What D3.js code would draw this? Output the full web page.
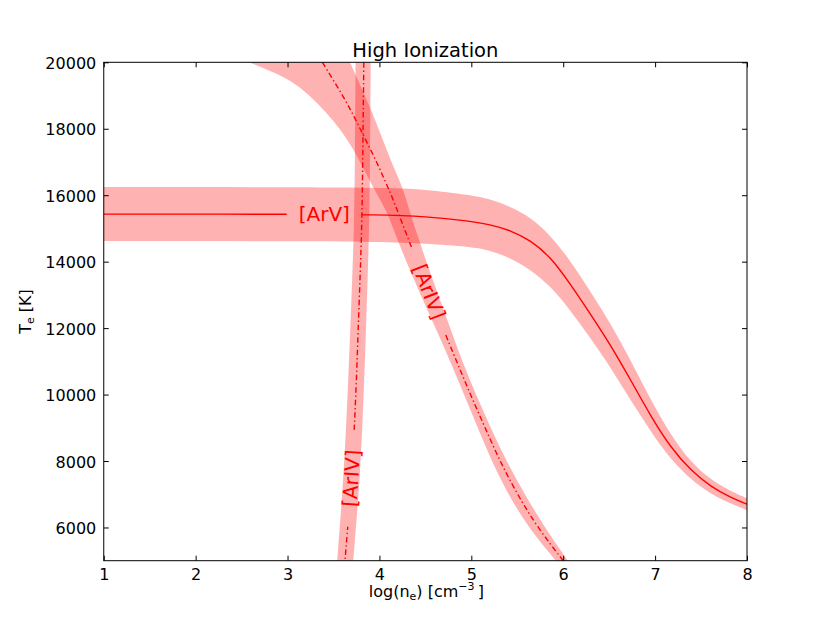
<!DOCTYPE html>
<html>
<head>
<meta charset="utf-8">
<script src="https://cdn.jsdelivr.net/npm/d3@7"></script>
<style>
  body { margin: 0; background: #fff; }
  svg { display: block; font-family: "DejaVu Sans", sans-serif; }
</style>
</head>
<body>
<div id="chart"></div>
<script>
(function () {

// axis ticks
const xTicks = [1, 2, 3, 4, 5, 6, 7, 8];
const yTicks = [6000, 8000, 10000, 12000, 14000, 16000, 18000, 20000];

// [ArV] : T as a function of log(ne)
const arvN  = [1, 2, 3, 4, 4.5, 4.99, 5.2, 5.42, 5.64, 5.86, 6.07, 6.29, 6.51, 6.73, 6.95, 7.17, 7.39, 7.61, 7.83, 8.0];
const arvT  = [15430, 15430, 15428, 15415, 15365, 15220, 15120, 14950, 14650, 14150, 13360, 12450, 11520, 10460, 9360, 8400, 7710, 7215, 6890, 6700];
const arvHi = [16245, 16245, 16242, 16228, 16180, 16000, 15890, 15660, 15350, 14800, 14060, 13130, 12160, 11060, 9850, 8780, 7960, 7425, 7080, 6880];
const arvLo = [14620, 14620, 14617, 14600, 14545, 14450, 14340, 14120, 13770, 13270, 12560, 11730, 10840, 9840, 8900, 8040, 7440, 7000, 6710, 6520];

// [ArIV] steep curve : log(ne) as a function of T
const ar4aT  = [20000, 17500, 15000, 12500, 10000, 7500, 5000];
const ar4aN  = [3.83, 3.82, 3.81, 3.775, 3.745, 3.70, 3.625];
const ar4aLo = [3.74, 3.735, 3.725, 3.69, 3.655, 3.61, 3.54];
const ar4aHi = [3.905, 3.90, 3.89, 3.86, 3.83, 3.79, 3.715];

// [ArIV] diagonal curve : log(ne) as a function of T
const ar4bT  = [20000, 19500, 19000, 18500, 18000, 17500, 17000, 16500, 16000, 15500, 15000, 14000, 13000, 12000, 11000, 10000, 9000, 8000, 7000, 6000, 5000];
const ar4bN  = [3.38, 3.49, 3.60, 3.70, 3.79, 3.88, 3.97, 4.05, 4.13, 4.20, 4.27, 4.41, 4.55, 4.69, 4.84, 4.99, 5.15, 5.31, 5.50, 5.72, 6.00];
const ar4bLo = [2.58, 3.03, 3.24, 3.42, 3.57, 3.69, 3.79, 3.88, 3.98, 4.08, 4.15, 4.29, 4.45, 4.61, 4.77, 4.92, 5.07, 5.22, 5.40, 5.62, 5.92];
const ar4bHi = [3.68, 3.76, 3.84, 3.92, 3.99, 4.06, 4.13, 4.21, 4.28, 4.33, 4.39, 4.51, 4.64, 4.77, 4.90, 5.05, 5.21, 5.38, 5.58, 5.80, 6.05];

const margin = {top: 62.3, right: 83, bottom: 62.3, left: 103.75};
const width = 830 - margin.left - margin.right,
      height = 623 - margin.top - margin.bottom;

const svg = d3.select("#chart").append("svg")
    .attr("width", width + margin.left + margin.right)
    .attr("height", height + margin.top + margin.bottom);

const defs = svg.append("defs");
const g = svg.append("g")
    .attr("transform", "translate(" + margin.left + "," + margin.top + ")");

const x = d3.scaleLinear().domain([1, 8]).range([0, width]);
const y = d3.scaleLinear().domain([5000, 20000]).range([height, 0]);

defs.append("clipPath").attr("id", "plot-clip")
  .append("rect").attr("width", width).attr("height", height);

// rows
const arv = arvN.map((n, i) => ({n: n, t: arvT[i], hi: arvHi[i], lo: arvLo[i]}));
const ar4a = ar4aT.map((t, i) => ({t: t, n: ar4aN[i], hi: ar4aHi[i], lo: ar4aLo[i]}));
const ar4b = ar4bT.map((t, i) => ({t: t, n: ar4bN[i], hi: ar4bHi[i], lo: ar4bLo[i]}));

// labels sit on the curve, the line is broken underneath them
function onCurveT(T, ts, ns) {
  const f = d3.scaleLinear().domain(ts).range(ns);
  return f(T);
}
function angle(n1, t1, n2, t2) {
  return Math.atan2(y(t2) - y(t1), x(n2) - x(n1)) * 180 / Math.PI;
}

const labels = [
  {id: "m-arv", text: "[ArV]", cx: x(3.40), cy: y(15430), rot: 0, pad: 12},
  {id: "m-ar4a", text: "[ArIV]", cx: x(onCurveT(7480, ar4aT, ar4aN)), cy: y(7480),
     rot: angle(3.625, 5000, 3.745, 10000), pad: 20},
  {id: "m-ar4b", text: "[ArIV]", cx: x(onCurveT(13090, ar4bT, ar4bN)), cy: y(13090),
     rot: angle(4.41, 14000, 4.69, 12000), pad: 17}
];

const plot = g.append("g").attr("clip-path", "url(#plot-clip)");

// bands
const bandX = d3.area()
    .x(d => x(d.n)).y0(d => y(d.lo)).y1(d => y(d.hi))
    .curve(d3.curveBasis);
const bandY = d3.area()
    .y(d => y(d.t)).x0(d => x(d.lo)).x1(d => x(d.hi))
    .curve(d3.curveBasis);

plot.append("path").attr("d", bandX(arv))
  .attr("fill", "red").attr("fill-opacity", 0.3);
plot.append("path").attr("d", bandY(ar4a))
  .attr("fill", "red").attr("fill-opacity", 0.3);
plot.append("path").attr("d", bandY(ar4b))
  .attr("fill", "red").attr("fill-opacity", 0.3);

// label texts (drawn first to measure them for the masks)
const labelG = g.append("g");
labels.forEach(l => {
  l.node = labelG.append("text")
    .attr("transform", "translate(" + l.cx + "," + l.cy + ") rotate(" + l.rot + ")")
    .attr("text-anchor", "middle")
    .attr("dy", "0.33em")
    .attr("fill", "red")
    .attr("font-size", 20)
    .text(l.text);
  const w = l.node.node().getComputedTextLength() + 2 * l.pad;
  const m = defs.append("mask").attr("id", l.id)
    .attr("maskUnits", "userSpaceOnUse")
    .attr("x", -50).attr("y", -50)
    .attr("width", width + 100).attr("height", height + 100);
  m.append("rect").attr("x", -50).attr("y", -50)
    .attr("width", width + 100).attr("height", height + 100).attr("fill", "white");
  m.append("rect")
    .attr("x", -w / 2).attr("y", -12).attr("width", w).attr("height", 24)
    .attr("transform", "translate(" + l.cx + "," + l.cy + ") rotate(" + l.rot + ")")
    .attr("fill", "black");
});

// center lines
const line = d3.line().x(d => x(d.n)).y(d => y(d.t)).curve(d3.curveBasis);

plot.append("path").attr("d", line(arv))
  .attr("fill", "none").attr("stroke", "red").attr("stroke-width", 1.4)
  .attr("mask", "url(#m-arv)");
plot.append("path").attr("d", line(ar4a))
  .attr("fill", "none").attr("stroke", "red").attr("stroke-width", 1.4)
  .attr("stroke-dasharray", "5.5,2.8,1.4,2.8")
  .attr("mask", "url(#m-ar4a)");
plot.append("path").attr("d", line(ar4b))
  .attr("fill", "none").attr("stroke", "red").attr("stroke-width", 1.4)
  .attr("stroke-dasharray", "5.5,2.8,1.4,2.8")
  .attr("mask", "url(#m-ar4b)");

labelG.raise();

// axes, ticks pointing inward on all four sides
function styleAxis(sel) {
  sel.select(".domain").remove();
  sel.selectAll(".tick line").attr("stroke", "#000").attr("stroke-width", 1);
  sel.selectAll(".tick text").attr("fill", "#000")
    .attr("font-size", 16).attr("font-family", "DejaVu Sans, sans-serif");
}

g.append("g").attr("transform", "translate(0," + height + ")")
  .call(d3.axisBottom(x).tickValues(xTicks).tickFormat(d3.format("d"))
    .tickSizeInner(-5).tickSizeOuter(0).tickPadding(8))
  .call(styleAxis);
g.append("g")
  .call(d3.axisTop(x).tickValues(xTicks).tickSizeInner(-5).tickSizeOuter(0).tickFormat(""))
  .call(styleAxis);
g.append("g")
  .call(d3.axisLeft(y).tickValues(yTicks).tickFormat(d3.format("d"))
    .tickSizeInner(-5).tickSizeOuter(0).tickPadding(7.5))
  .call(styleAxis)
  .selectAll(".tick text").attr("dy", "0.38em");
g.append("g").attr("transform", "translate(" + width + ",0)")
  .call(d3.axisRight(y).tickValues(yTicks).tickSizeInner(-5).tickSizeOuter(0).tickFormat(""))
  .call(styleAxis);

// frame
g.append("rect").attr("width", width).attr("height", height)
  .attr("fill", "none").attr("stroke", "#000").attr("stroke-width", 1);

// title and axis labels
g.append("text")
  .attr("x", width / 2).attr("y", -5.3)
  .attr("text-anchor", "middle").attr("font-size", 19.5)
  .text("High Ionization");

const xl = g.append("text")
  .attr("x", width / 2 + 1).attr("y", 535)
  .attr("text-anchor", "middle").attr("font-size", 16);
xl.append("tspan").text("log(n");
xl.append("tspan").attr("font-size", 11).attr("dy", 3).text("e");
xl.append("tspan").attr("dy", -3).text(") [cm");
xl.append("tspan").attr("font-size", 11).attr("dy", -7).text("\u22123");
xl.append("tspan").attr("dy", 7).text("\u2009]");

const yl = g.append("text")
  .attr("transform", "translate(" + (31 - margin.left) + "," + (height / 2) + ") rotate(-90)")
  .attr("text-anchor", "middle").attr("font-size", 16);
yl.append("tspan").text("T");
yl.append("tspan").attr("font-size", 11).attr("dy", 3).text("e");
yl.append("tspan").attr("dy", -3).text(" [K]");

})()
</script>
</body>
</html>
